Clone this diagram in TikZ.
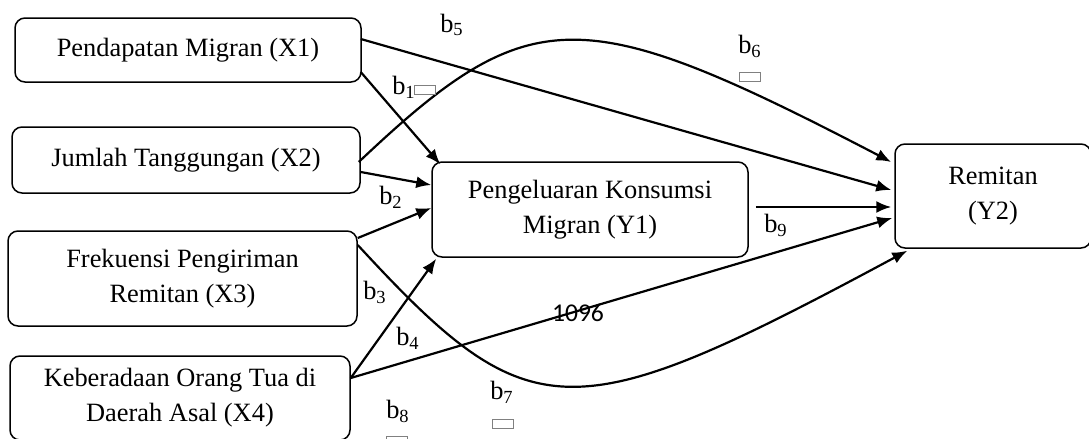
\documentclass[tikz,border=0pt]{standalone}
\usepackage{fontspec}
\setmainfont{Liberation Serif}
\newfontfamily\numfont{Carlito}
\usetikzlibrary{arrows.meta,calc}

\tikzset{
    var/.style = {draw, rounded corners = 5pt, line width = 0.75pt, align = center,
        inner sep = 0pt, font = \fontsize{13.2}{17.5}\selectfont},
    arr/.style = {-{Latex[length = 7.5pt, width = 6pt]}, line width = 1.1pt},
    coef/.style = {inner sep = 0pt, font = \fontsize{13.2}{16}\selectfont},
    nobox/.style = {draw = gray, line width = 0.4pt, inner sep = 0pt,
        minimum width = 10.5pt, minimum height = 4.5pt}
}

\begin{document}
\begin{tikzpicture}[x = 0.5pt, y = -0.5pt]
    \useasboundingbox (0, 0) rectangle (1089, 439);

    \node[var, minimum width = 173pt, minimum height = 32pt] (x1) at (188, 50) {Pendapatan Migran (X1)};
    \node[var, minimum width = 174pt, minimum height = 33pt] (x2) at (186, 160) {Jumlah Tanggungan (X2)};
    \node[var, minimum width = 174.5pt, minimum height = 47.5pt] (x3) at (182.5, 278.5) {Frekuensi Pengiriman\\Remitan (X3)};
    \node[var, minimum width = 170pt, minimum height = 42pt] (x4) at (180, 398) {Keberadaan Orang Tua di\\Daerah Asal (X4)};

    \node[var, minimum width = 158pt, minimum height = 47.5pt] (y1) at (590, 209.5) {Pengeluaran Konsumsi\\Migran (Y1)};
    \node[var, minimum width = 98pt, minimum height = 52pt] (y2) at (993, 196) {Remitan\\(Y2)};

    \draw[arr] ($(x1.east) + (-1, 22)$) -- ($(y1.north west) + (9, 3)$);
    \draw[arr] ($(x2.east) + (0, 12)$) -- ($(y1.west) + (0, -24.5)$);
    \draw[arr] ($(x3.east) + (0, -40.5)$) -- ($(y1.west) + (0, -1.5)$);
    \draw[arr] ($(x4.east) + (0, -20)$) -- ($(y1.south west) + (5, 1)$);

    \draw[arr] ($(x1.east) + (-1, -11)$) -- ($(y2.west) + (-3, -6)$);
    \draw[arr] ($(x2.east) + (-2, 2)$) .. controls (530, 0) and (580, 0) .. ($(y2.west) + (-3, -34)$);
    \draw[arr] ($(x3.east) + (0, -33.5)$) .. controls (530, 432) and (570, 432) .. ($(y2.south west) + (13, 2)$);
    \draw[arr] ($(x4.east) + (0, -20)$) -- ($(y2.west) + (-2, 22)$);
    \draw[arr] ($(y1.east) + (7, -2.5)$) -- ($(y2.west) + (-3, 11)$);

    \node[coef] (b1) at (404, 87) {b\textsubscript{1}};
    \node[nobox] (g1) at (425, 90) {};
    \node[coef] (b2) at (391, 197) {b\textsubscript{2}};
    \node[coef] (b3) at (375, 292) {b\textsubscript{3}};
    \node[coef] (b4) at (408, 338) {b\textsubscript{4}};
    \node[coef] (b5) at (452, 25) {b\textsubscript{5}};
    \node[coef] (b6) at (750, 46) {b\textsubscript{6}};
    \node[nobox] (g6) at (750, 77) {};
    \node[coef] (b7) at (502, 392) {b\textsubscript{7}};
    \node[nobox] (g7) at (503, 424) {};
    \node[coef] (b8) at (398, 411) {b\textsubscript{8}};
    \node[nobox] (g8) at (397, 441) {};
    \node[coef] (b9) at (776, 225) {b\textsubscript{9}};

    \node[inner sep = 0pt, font = \numfont\fontsize{12.8}{14}\selectfont] (n1) at (578, 313) {1096};
\end{tikzpicture}
\end{document}
